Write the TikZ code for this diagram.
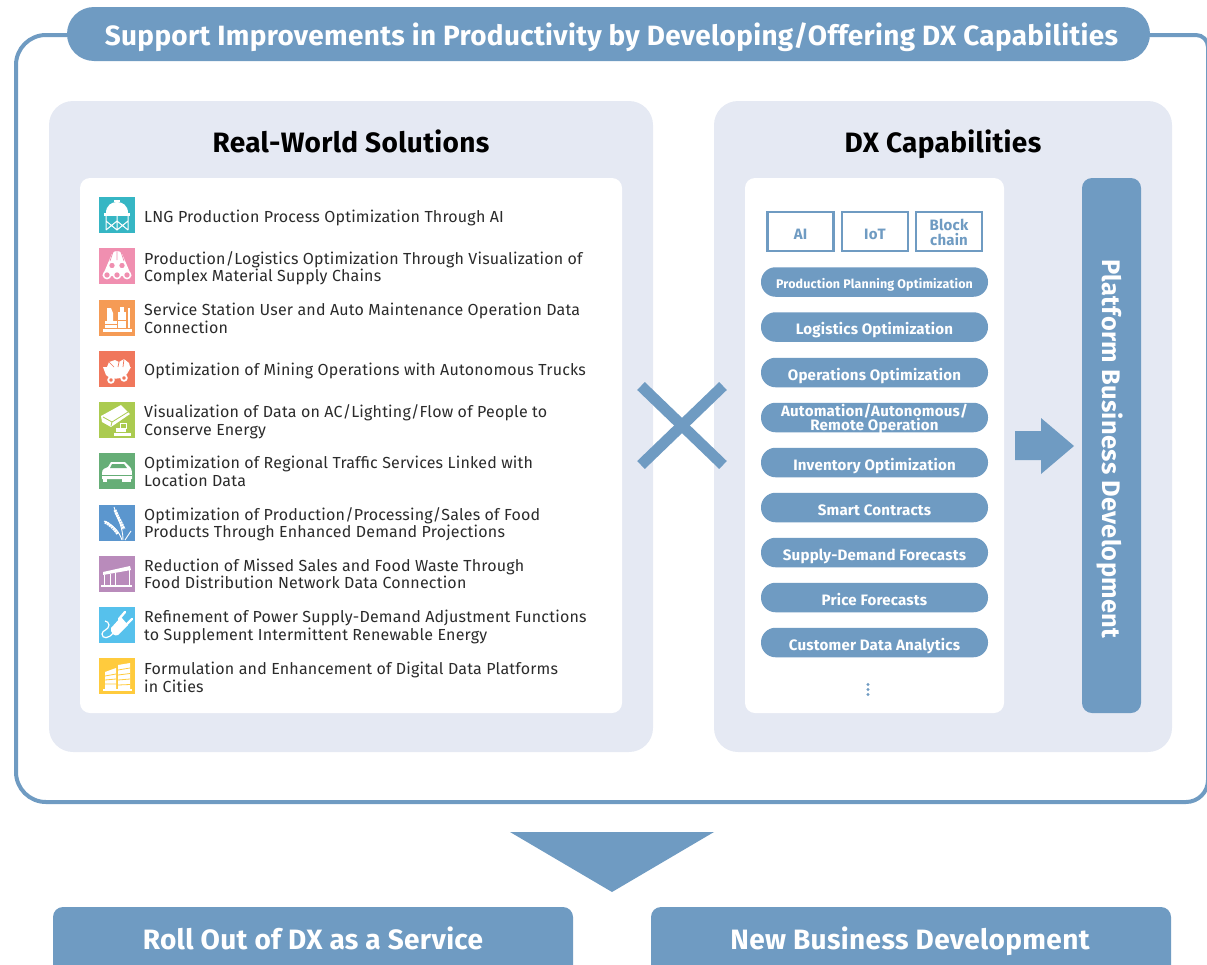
\documentclass[tikz,border=0pt]{standalone}
\usepackage{fontspec}
\setmainfont[LetterSpace=1.25]{Fira Sans}
\definecolor{dxblue}{HTML}{6F9BC2}
\definecolor{dxpanel}{HTML}{E5E9F3}
\definecolor{dxtext}{HTML}{2B2B2B}
\definecolor{iconteal}{HTML}{36B6C4}
\definecolor{iconpink}{HTML}{F08FB0}
\definecolor{iconorange}{HTML}{F59B55}
\definecolor{iconred}{HTML}{F0775C}
\definecolor{iconlime}{HTML}{ABCB50}
\definecolor{icongreen}{HTML}{66AE77}
\definecolor{iconblue}{HTML}{5B96CE}
\definecolor{iconpurple}{HTML}{B98BBB}
\definecolor{iconsky}{HTML}{56C1EC}
\definecolor{iconyellow}{HTML}{FFCB3D}
\tikzset{
  panel/.style={fill=dxpanel, rounded corners=24pt},
  card/.style={fill=white, rounded corners=10pt},
  capitem/.style={fill=dxblue, text=white, rounded corners=14.5pt, minimum width=227pt, minimum height=29.5pt, inner sep=0pt, align=center, text height=15pt, text depth=0pt, font=\fontsize{15.1}{14}\selectfont\bfseries},
  techbox/.style={draw=dxblue, line width=2.5pt, text=dxblue, minimum width=66pt, minimum height=39pt, inner sep=0pt, align=center, text height=15pt, text depth=0pt, font=\fontsize{15}{14.3}\selectfont\bfseries},
  solitem/.style={anchor=west, inner sep=0pt, align=left, text=dxtext, text height=12pt, text depth=4pt, font=\fontsize{16}{17.5}\selectfont},
  heading/.style={anchor=base, inner sep=0pt, font=\fontsize{28}{28}\selectfont\bfseries},
  resultbox/.style={fill=dxblue, rounded corners=10pt},
  resultlabel/.style={anchor=base, text=white, inner sep=0pt, font=\fontsize{28}{28}\selectfont\bfseries},
}
\begin{document}
\begin{tikzpicture}[x=1pt,y=-1pt]
\useasboundingbox (0,0) rectangle (1207,964);

% outer frame
\draw[dxblue, line width=4pt, rounded corners=30pt] (1150,35) -- (16,35) -- (16,802) -- (1100,802);
\draw[dxblue, line width=4pt, rounded corners=12pt] (1150,35) -- (1208,35) -- (1208,100);
\draw[dxblue, line width=4pt, rounded corners=22pt] (1100,802) -- (1208,802) -- (1208,100);
\node[fill=dxblue, rounded corners=27pt, minimum width=1083pt, minimum height=54pt, inner sep=0pt, text=white, text height=22pt, text depth=0pt, font=\fontsize{27.9}{28}\selectfont\bfseries] (title) at (608.5,34) {\hspace*{6pt}Support Improvements in Productivity by Developing/Offering DX Capabilities};

% panels
\fill[panel] (49,101) rectangle (653,752);
\fill[panel] (714,101) rectangle (1172,752);
\fill[card] (80,178) rectangle (622,713);
\fill[card] (745,178) rectangle (1004,713);
\node[heading] (solutions) at (351,152) {Real-World Solutions};
\node[heading] (capabilities) at (943,152) {DX Capabilities};

% solutions list
\node[solitem] (sol1) at (144,218) {LNG Production Process Optimization Through AI};
\node[solitem] (sol2) at (144,277.5) {Production/Logistics Optimization Through Visualization of\\Complex Material Supply Chains};
\node[solitem] (sol3) at (144,329) {Service Station User and Auto Maintenance Operation Data\\Connection};
\node[solitem] (sol4) at (144,371) {Optimization of Mining Operations with Autonomous Trucks};
\node[solitem] (sol5) at (144,431) {Visualization of Data on AC/Lighting/Flow of People to\\Conserve Energy};
\node[solitem] (sol6) at (144,482) {Optimization of Regional Traffic Services Linked with\\Location Data};
\node[solitem] (sol7) at (144,533.5) {Optimization of Production/Processing/Sales of Food\\Products Through Enhanced Demand Projections};
\node[solitem] (sol8) at (144,584.5) {Reduction of Missed Sales and Food Waste Through\\Food Distribution Network Data Connection};
\node[solitem] (sol9) at (144,636) {Refinement of Power Supply-Demand Adjustment Functions\\to Supplement Intermittent Renewable Energy};
\node[solitem] (sol10) at (144,688) {Formulation and Enhancement of Digital Data Platforms\\in Cities};

% icons
\begin{scope}[shift={(99,197)}]
\fill[iconteal] (0,0) rectangle (36,36);
\fill[white] (7,16) .. controls (7,8) and (13,5) .. (18,5) .. controls (23,5) and (29,8) .. (29,16) -- cycle;
\fill[white] (15,5) rectangle (21,3);
\fill[white] (5,16) rectangle (31,19);
\draw[white, line width=1pt] (7,19) -- (7,33) (18,19) -- (18,33) (29,19) -- (29,33) (7,24) -- (18,33) -- (29,24) (7,33) -- (18,24) -- (29,33);
\end{scope}
\begin{scope}[shift={(99,248)}]
\fill[iconpink] (0,0) rectangle (36,36);
\fill[white] (18,9) circle[radius=6];
\fill[white] (3.5,28) -- (12,8) -- (24,8) -- (32.5,28) -- cycle;
\draw[iconpink, line width=0.7pt] (18,3) -- (18,12) (14,4) -- (11,13) (22,4) -- (25,13);
\draw[white, fill=iconpink, line width=1.5pt] (13,17.5) circle[radius=3.6] (23,17.5) circle[radius=3.6];
\draw[white, fill=iconpink, line width=1.5pt] (8,27) circle[radius=3.6] (18,27) circle[radius=3.6] (28,27) circle[radius=3.6];
\end{scope}
\begin{scope}[shift={(99,300)}]
\fill[iconorange] (0,0) rectangle (36,36);
\fill[white] (4,29) rectangle (33,32);
\fill[white] (19,12) rectangle (27,28);
\fill[white] (21,7) rectangle (25,12);
\fill[white] (29,8) rectangle (30.5,28);
\fill[white] (6,21) rectangle (18,28);
\fill[white] (8,8) -- (12,8) -- (14,13) -- (14,21) -- (8,21) -- cycle;
\draw[iconorange, line width=0.8pt] (6,24) -- (18,24) (19,20) -- (27,20);
\end{scope}
\begin{scope}[shift={(99,351)}]
\fill[iconred] (0,0) rectangle (36,36);
\fill[white] (4,16) -- (32,16) -- (28,23) .. controls (22,29) and (12,29) .. (7,24) -- cycle;
\fill[white] (8,16) -- (10,11) -- (16,9) -- (20,11) -- (25,8) -- (30,12) -- (31,16) -- cycle;
\draw[iconred, line width=0.7pt] (10,11) -- (15,16) (20,11) -- (19,16) (25,8) -- (24,16);
\draw[white, fill=iconred, line width=1.8pt] (12,29) circle[radius=2.8] (25,27) circle[radius=2.8];
\end{scope}
\begin{scope}[shift={(99,402)}]
\fill[iconlime] (0,0) rectangle (36,36);
\fill[white] (2,14) -- (22,3) -- (31,12) -- (12,25) -- (3,20) -- cycle;
\draw[iconlime, line width=0.8pt] (4,15) -- (13,20) -- (29,10) (13,20) -- (12,24);
\fill[white] (17,26) rectangle (27,30);
\draw[white, line width=1pt] (21,21) rectangle (27,26);
\fill[white] (15,31) rectangle (32,34);
\end{scope}
\begin{scope}[shift={(99,453)}]
\fill[icongreen] (0,0) rectangle (36,36);
\fill[white] (3,20) .. controls (3,16) and (6,15) .. (9,14) -- (12,9) -- (26,9) -- (31,14) .. controls (33,16) and (33,20) .. (33,22) -- (33,26) -- (3,26) -- cycle;
\fill[white] (4,26) rectangle (8,29);
\fill[white] (23,26) rectangle (32,29);
\fill[icongreen] (13,11) -- (25,11) -- (28,15) -- (11,15) -- cycle;
\draw[icongreen, line width=0.8pt] (3,22) -- (33,22);
\end{scope}
\begin{scope}[shift={(99,505)}]
\fill[iconblue] (0,0) rectangle (36,36);
\draw[white, line width=0.9pt] (15,2) .. controls (18,12) and (24,22) .. (24,35);
\draw[white, line width=0.9pt] (5,16) .. controls (14,20) and (20,26) .. (23,35);
\draw[white, line width=0.9pt] (32,26) -- (26,35);
\draw[white, line width=3pt, dash pattern=on 2pt off 0.6pt] (16,5) .. controls (18,11) and (22,17) .. (25,24);
\draw[white, line width=3pt, dash pattern=on 2pt off 0.6pt] (6,17) .. controls (10,19) and (15,23) .. (19,29);
\end{scope}
\begin{scope}[shift={(99,556)}]
\fill[iconpurple] (0,0) rectangle (36,36);
\fill[white] (4,16) -- (31,10) -- (32,14) -- (4,19) -- cycle;
\draw[white, line width=1pt] (5,19) -- (5,29) (30,14) -- (30,29);
\draw[white, line width=1pt] (11,18) -- (11,29) (16,17) -- (16,29);
\fill[white] (2,29) rectangle (33,31);
\end{scope}
\begin{scope}[shift={(99,607)}]
\fill[iconsky] (0,0) rectangle (36,36);
\fill[white] (12,21) -- (22,10) -- (29,18) -- (19,28) .. controls (16,30) and (11,26) .. (12,21);
\draw[white, line width=2.4pt, line cap=round] (20,12) -- (26,5) (27,18) -- (33,12);
\draw[white, line width=1.2pt] (14,26) .. controls (10,32) and (3,32) .. (3,27) .. controls (3,23) and (10,23) .. (10,18) .. controls (10,16) and (8,14) .. (6,14);
\end{scope}
\begin{scope}[shift={(99,658)}]
\fill[iconyellow] (0,0) rectangle (36,36);
\fill[white] (6,14) -- (17,10) -- (17,31) -- (6,31) -- cycle;
\fill[white] (19,7) -- (31,5) -- (31,31) -- (19,31) -- cycle;
\fill[white] (4,31) rectangle (33,33);
\draw[iconyellow, line width=0.8pt] (6,18) -- (17,16) (6,22) -- (17,21) (6,26) -- (17,26) (19,12) -- (31,10) (19,17) -- (31,15.5) (19,22) -- (31,21) (19,27) -- (31,26.5);
\end{scope}

% cross
\draw[dxblue, line width=11pt] (641,386) -- (723,465);
\draw[dxblue, line width=11pt] (723,386) -- (641,465);

% capabilities
\node[techbox] (ai) at (800.5,231.5) {AI};
\node[techbox] (iot) at (875,231.5) {IoT};
\node[techbox, text height=27pt] (block) at (949,231.5) {Block\\chain};
\node[capitem, text height=12.6pt, font=\fontsize{12.5}{12.5}\selectfont\bfseries] (planning) at (874.5,282) {Production Planning Optimization};
\node[capitem, text height=14pt] (logistics) at (874.5,327) {Logistics Optimization};
\node[capitem] (operations) at (874.5,372.5) {Operations Optimization};
\node[capitem, text height=25pt] (automation) at (874.5,417.5) {Automation/Autonomous/\\Remote Operation};
\node[capitem] (inventory) at (874.5,462.5) {Inventory Optimization};
\node[capitem] (contracts) at (874.5,507.5) {Smart Contracts};
\node[capitem] (supply) at (874.5,552.5) {Supply-Demand Forecasts};
\node[capitem] (price) at (874.5,597.5) {Price Forecasts};
\node[capitem] (customer) at (874.5,642.5) {Customer Data Analytics};
\fill[dxblue] (868,684.5) circle[radius=1.7] (868,689.5) circle[radius=1.7] (868,694.5) circle[radius=1.7];

% platform
\fill[dxblue, rounded corners=10pt] (1082,178) rectangle (1141,713);
\node[rotate=-90, anchor=base, text=white, inner sep=0pt, font=\fontsize{25.4}{25.4}\selectfont\bfseries] (platform) at (1102,449) {Platform Business Development};
\fill[dxblue] (1015,431) -- (1041,431) -- (1041,418) -- (1074,446) -- (1041,474) -- (1041,460) -- (1015,460) -- cycle;

% results
\fill[dxblue] (510,832) -- (714,832) -- (612,892) -- cycle;
\fill[resultbox] (53,907) rectangle (573,990);
\fill[resultbox] (651,907) rectangle (1171,990);
\node[resultlabel] (service) at (313,949) {Roll Out of DX as a Service};
\node[resultlabel] (business) at (910,949) {New Business Development};

\end{tikzpicture}
\end{document}
